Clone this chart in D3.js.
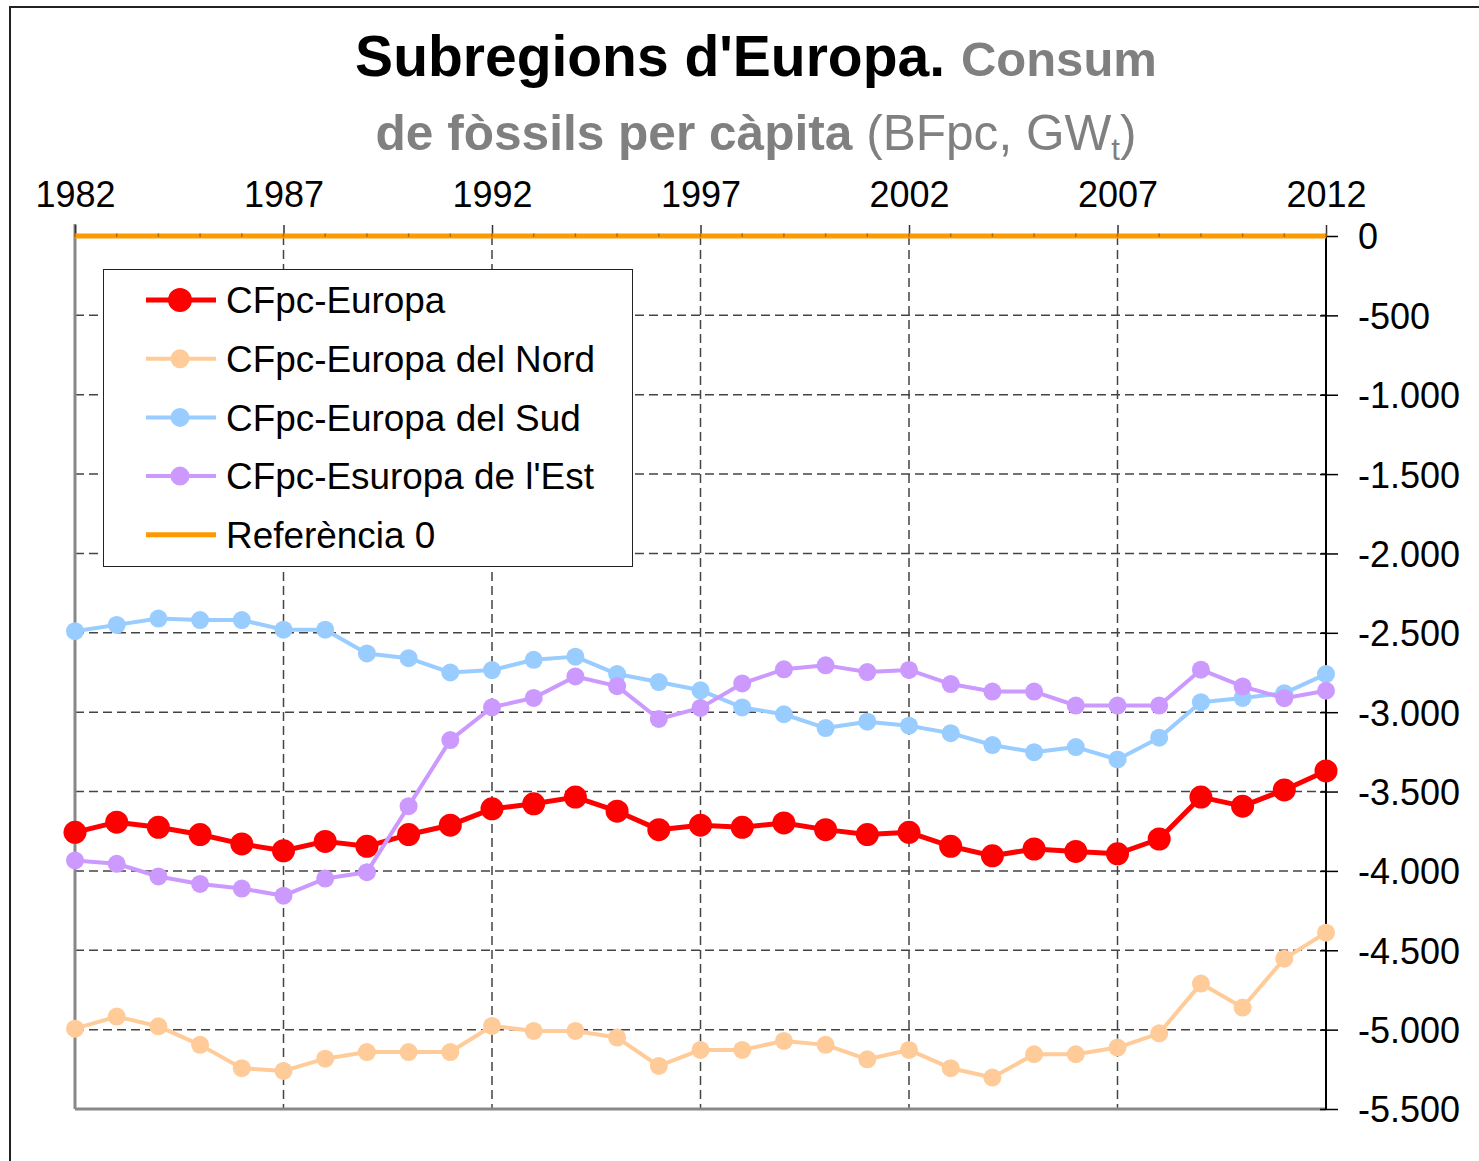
<!DOCTYPE html>
<html>
<head>
<meta charset="utf-8">
<script src="https://cdn.jsdelivr.net/npm/d3@7"></script>
<style>
  body { margin: 0; background: #fff; }
  svg text { font-family: "Liberation Sans", Arial, sans-serif; }
</style>
</head>
<body>
<svg id="chart" width="1479" height="1161"></svg>
<script>
// years and values
const years = d3.range(1982, 2013)

const europa = [-3757, -3693, -3725, -3771, -3830, -3873, -3814, -3845, -3771, -3712,
  -3609, -3577, -3535, -3624, -3740, -3712, -3725, -3698, -3740, -3771,
  -3757, -3845, -3905, -3862, -3877, -3892, -3799, -3535, -3592, -3490, -3370]

const nord = [-4994, -4918, -4979, -5096, -5243, -5260, -5183, -5141, -5141, -5141,
  -4977, -5008, -5008, -5050, -5229, -5128, -5128, -5071, -5096, -5187,
  -5128, -5243, -5302, -5155, -5155, -5113, -5023, -4710, -4861, -4553, -4389]

const sud = [-2490, -2450, -2410, -2420, -2420, -2480, -2480, -2630, -2660, -2750,
  -2735, -2670, -2650, -2760, -2810, -2862, -2970, -3013, -3100, -3060,
  -3085, -3132, -3207, -3252, -3220, -3298, -3161, -2937, -2910, -2880, -2760]

const est = [-3934, -3955, -4035, -4082, -4111, -4156, -4048, -4008, -3592, -3176,
  -2969, -2910, -2775, -2836, -3043, -2973, -2819, -2730, -2705, -2747,
  -2734, -2823, -2870, -2870, -2958, -2958, -2958, -2732, -2838, -2912, -2865]

const referencia = years.map(() => 0)

const xTicks = [1982, 1987, 1992, 1997, 2002, 2007, 2012]
const yTicks = d3.range(0, -5501, -500)

const seriesNames = ["CFpc-Europa", "CFpc-Europa del Nord", "CFpc-Europa del Sud", "CFpc-Esuropa de l'Est", "Referència 0"]

const series = [
  {name: seriesNames[0], values: europa, color: "#ff0000", width: 5, r: 11.5},
  {name: seriesNames[1], values: nord, color: "#ffcc99", width: 4, r: 9},
  {name: seriesNames[2], values: sud, color: "#99ccff", width: 4, r: 9},
  {name: seriesNames[3], values: est, color: "#cc99ff", width: 4, r: 9},
  {name: seriesNames[4], values: referencia, color: "#ff9900", width: 5, r: 0}
]

const svg = d3.select("#chart")

const plotLeft = 75, plotRight = 1326, plotTop = 236, plotBottom = 1109

const x = d3.scaleLinear().domain([1982, 2012]).range([plotLeft, plotRight])
const y = d3.scaleLinear().domain([-5500, 0]).range([plotBottom, plotTop])

const loc = d3.formatLocale({decimal: ",", thousands: ".", grouping: [3], currency: ["", ""], minus: "-"})
const fmt = loc.format(",d")

// outer frame (chart area edge)
svg.append("path")
  .attr("d", "M10,1161 V7 H1479")
  .attr("fill", "none")
  .attr("stroke", "#222")
  .attr("stroke-width", 2)

// title
const title = svg.append("g").attr("text-anchor", "middle")
const t1 = title.append("text").attr("x", 756).attr("y", 76)
t1.append("tspan").attr("font-size", 57).attr("font-weight", "bold").attr("fill", "#000").text("Subregions d'Europa. ")
t1.append("tspan").attr("font-size", 49).attr("font-weight", "bold").attr("fill", "#808080").text("Consum")

const t2 = title.append("text").attr("x", 756).attr("y", 150).attr("fill", "#808080").attr("font-size", 49.6)
t2.append("tspan").attr("font-weight", "bold").text("de fòssils per càpita ")
t2.append("tspan").text("(BFpc, GW")
t2.append("tspan").attr("font-size", 31).attr("dy", 10).text("t")
t2.append("tspan").attr("dy", -10).text(")")

// grid lines
svg.append("g")
  .selectAll("line")
  .data(yTicks.filter(d => d !== 0 && d !== -5500))
  .join("line")
  .attr("x1", plotLeft).attr("x2", plotRight)
  .attr("y1", d => y(d)).attr("y2", d => y(d))
  .attr("stroke", "#444")
  .attr("stroke-width", 1.5)
  .attr("stroke-dasharray", "9,5")

svg.append("g")
  .selectAll("line")
  .data(xTicks.filter(d => d !== 1982 && d !== 2012))
  .join("line")
  .attr("x1", d => x(d)).attr("x2", d => x(d))
  .attr("y1", plotTop).attr("y2", plotBottom)
  .attr("stroke", "#444")
  .attr("stroke-width", 1.5)
  .attr("stroke-dasharray", "9,5")

// left and bottom gray lines
svg.append("line").attr("x1", plotLeft).attr("x2", plotLeft).attr("y1", 224).attr("y2", plotBottom)
  .attr("stroke", "#888").attr("stroke-width", 3)
svg.append("line").attr("x1", plotLeft).attr("x2", plotRight).attr("y1", plotBottom).attr("y2", plotBottom)
  .attr("stroke", "#888").attr("stroke-width", 3)

// top axis with the year labels
const xAxis = svg.append("g")
  .attr("transform", "translate(0," + plotTop + ")")
  .call(d3.axisTop(x).tickValues(xTicks).tickFormat(d3.format("d")).tickSize(11).tickPadding(18))
xAxis.select(".domain").remove()
xAxis.selectAll(".tick line").attr("stroke", "#333").attr("stroke-width", 1.5)
xAxis.selectAll("text").attr("font-size", 36).attr("fill", "#000")

// right axis
const yAxis = svg.append("g")
  .attr("transform", "translate(" + plotRight + ",0)")
  .call(d3.axisRight(y).tickValues(yTicks).tickFormat(fmt).tickSize(12).tickPadding(20))
yAxis.select(".domain").remove()
yAxis.selectAll(".tick line").attr("x1", -6).attr("stroke", "#000").attr("stroke-width", 1.5)
yAxis.selectAll("text").attr("font-size", 36).attr("fill", "#000").attr("dy", "0.36em")
svg.append("line").attr("x1", plotRight).attr("x2", plotRight).attr("y1", plotTop).attr("y2", plotBottom)
  .attr("stroke", "#000").attr("stroke-width", 2)

// series
const line = d3.line().x((d, i) => x(years[i])).y(d => y(d))

series.forEach(function(s) {
  const g = svg.append("g")
  g.append("path")
    .datum(s.values)
    .attr("d", line)
    .attr("fill", "none")
    .attr("stroke", s.color)
    .attr("stroke-width", s.width)
    .attr("stroke-linejoin", "round")

  if (s.r > 0) {
    g.selectAll("circle")
      .data(s.values)
      .join("circle")
      .attr("cx", (d, i) => x(years[i]))
      .attr("cy", d => y(d))
      .attr("r", s.r)
      .attr("fill", s.color)
  } else {
    // tiny dash markers on the reference line
    g.selectAll("line")
      .data(s.values)
      .join("line")
      .attr("x1", (d, i) => x(years[i])).attr("x2", (d, i) => x(years[i]))
      .attr("y1", d => y(d) - 2.5).attr("y2", d => y(d) + 1)
      .attr("stroke", "#b36b00")
      .attr("stroke-width", 1.5)
  }
})

// legend
const legend = svg.append("g")
legend.append("rect")
  .attr("x", 103.5).attr("y", 269.5)
  .attr("width", 529).attr("height", 297)
  .attr("fill", "#fff")
  .attr("stroke", "#222")
  .attr("stroke-width", 1)

const items = legend.selectAll(".item")
  .data(series)
  .join("g")
  .attr("class", "item")
  .attr("transform", (d, i) => "translate(0," + (300 + i * 58.7) + ")")

items.append("line")
  .attr("x1", 146).attr("x2", 216)
  .attr("stroke", d => d.color)
  .attr("stroke-width", d => d.width)

items.filter(d => d.r > 0).append("circle")
  .attr("cx", 180)
  .attr("r", d => d.r + 0.5)
  .attr("fill", d => d.color)

items.append("text")
  .attr("x", 226)
  .attr("dy", "0.36em")
  .attr("font-size", 36.9)
  .attr("fill", "#000")
  .text(d => d.name)
</script>
</body>
</html>
